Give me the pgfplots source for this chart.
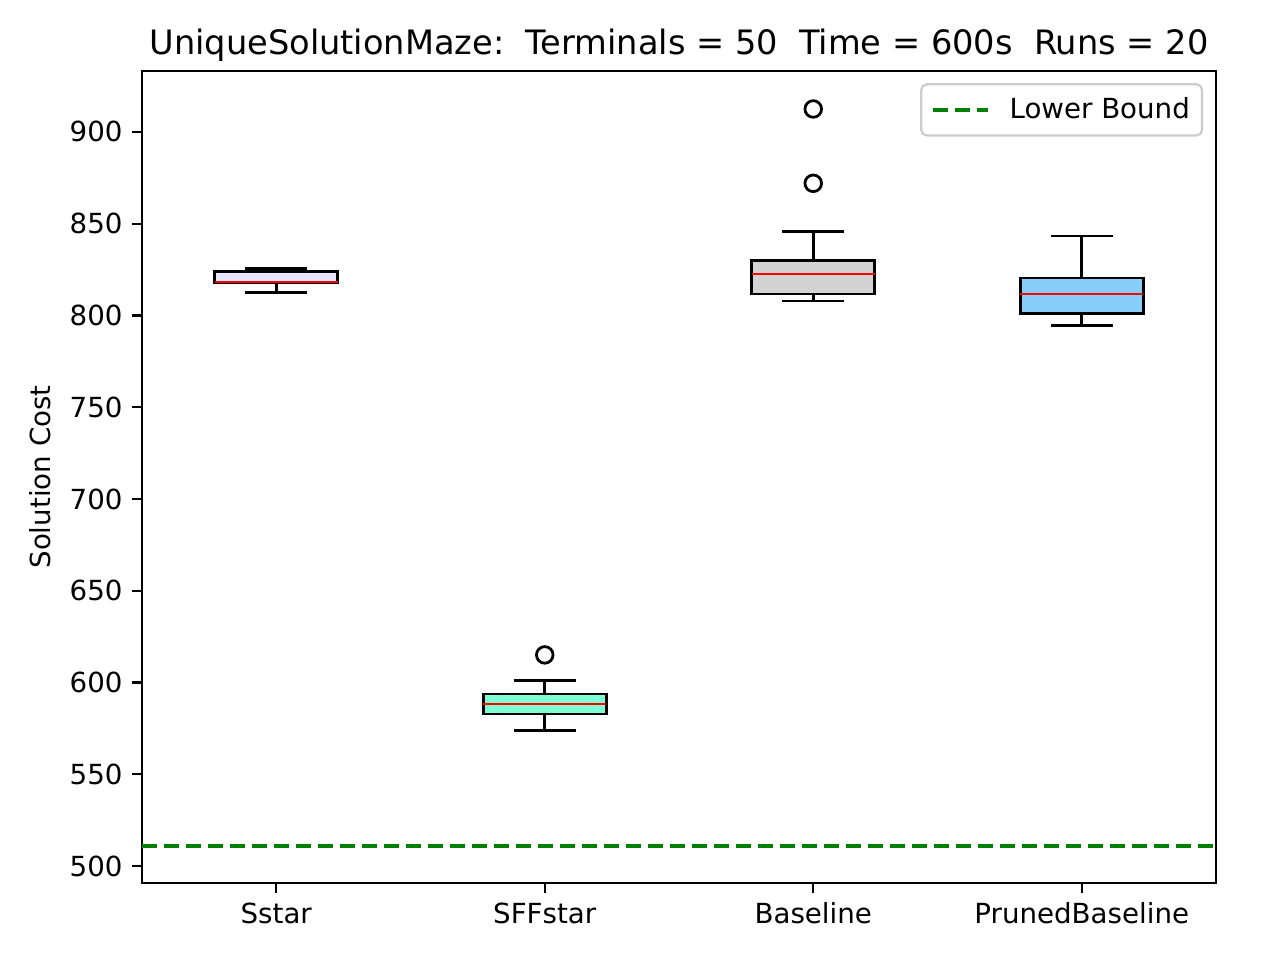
\documentclass[border=0pt]{standalone}
\usepackage{pgfplots}
\pgfplotsset{compat=1.18}
\usepgfplotslibrary{statistics}
\usepackage{fontspec}
\setmainfont{DejaVu Sans}
\definecolor{mplgreen}{RGB}{0,128,0}
\definecolor{lavender}{RGB}{230,230,250}
\definecolor{aquamarine}{RGB}{127,255,212}
\definecolor{lgray}{RGB}{211,211,211}
\definecolor{lskyblue}{RGB}{135,206,250}
\definecolor{legframe}{RGB}{204,204,204}
\begin{document}
\begin{tikzpicture}
\begin{axis}[
  at={(0,0)}, anchor=south west,
  scale only axis,
  width=5.37in, height=4.06in,
  xmin=0.5, xmax=4.5,
  ymin=490.7, ymax=933.2,
  xtick={1,2,3,4},
  xticklabels={Sstar,SFFstar,Baseline,PrunedBaseline},
  ytick={500,550,600,650,700,750,800,850,900},
  xtick pos=bottom, ytick pos=left,
  tick align=outside,
  major tick length=3.5pt,
  every tick/.style={black, line width=0.8pt},
  axis line style={line width=0.8pt},
  tick label style={font=\fontsize{10}{12}\selectfont},
  /pgf/number format/assume math mode=true,
  /pgf/number format/1000 sep={},
  title={UniqueSolutionMaze:\ \ Terminals = 50\ \ Time = 600s\ \ Runs = 20},
  every axis title/.style={at={(0.5,1)}, anchor=base, yshift=6pt, inner sep=0pt, font=\fontsize{12.15}{14}\selectfont},
  ylabel={Solution Cost},
  ylabel style={font=\fontsize{10}{12}\selectfont},
  boxplot/draw direction=y,
  boxplot/box extend=0.458,
  boxplot/whisker extend=0.23,
  boxplot/every median/.style={draw=red, line width=0.8pt},
  legend style={at={(0.988,0.985)}, anchor=north east, draw=legframe, rounded corners=2pt, line width=0.8pt,
    font=\fontsize{10}{12}\selectfont, inner xsep=0.8pt, inner ysep=2.7pt,
    nodes={inner xsep=3.6pt}},
  legend cell align=left,
  legend image code/.code={\path (-2.5pt,0pt) (23.5pt,0pt); \draw[#1] (0pt,0pt) -- (20pt,0pt);},
]
\addplot[forget plot, draw=black, fill=lavender, line width=1pt, mark=o, mark size=3pt, mark options={solid, black, line width=1pt},
  boxplot prepared={draw position=1, lower whisker=812.6, lower quartile=817.8, median=818.4, upper quartile=823.9, upper whisker=825.7}]
  coordinates {};
\addplot[forget plot, draw=black, fill=aquamarine, line width=1pt, mark=o, mark size=3pt, mark options={solid, black, line width=1pt},
  boxplot prepared={draw position=2, lower whisker=573.6, lower quartile=582.8, median=588.3, upper quartile=593.7, upper whisker=601.2}]
  coordinates {(0,615.0)};
\addplot[forget plot, draw=black, fill=lgray, line width=1pt, mark=o, mark size=3pt, mark options={solid, black, line width=1pt},
  boxplot prepared={draw position=3, lower whisker=807.9, lower quartile=811.7, median=822.6, upper quartile=829.9, upper whisker=845.9}]
  coordinates {(0,872.0) (0,912.5)};
\addplot[forget plot, draw=black, fill=lskyblue, line width=1pt, mark=o, mark size=3pt, mark options={solid, black, line width=1pt},
  boxplot prepared={draw position=4, lower whisker=794.7, lower quartile=801.2, median=811.7, upper quartile=820.4, upper whisker=843.3}]
  coordinates {};
\addplot[mplgreen, line width=1.5pt, dash pattern=on 5.55pt off 2.4pt] coordinates {(0.5,510.9) (4.5,510.9)};
\addlegendentry{Lower Bound}
\end{axis}
\useasboundingbox (-0.71in,-0.385in) rectangle (5.69in,4.415in);
\end{tikzpicture}
\end{document}
